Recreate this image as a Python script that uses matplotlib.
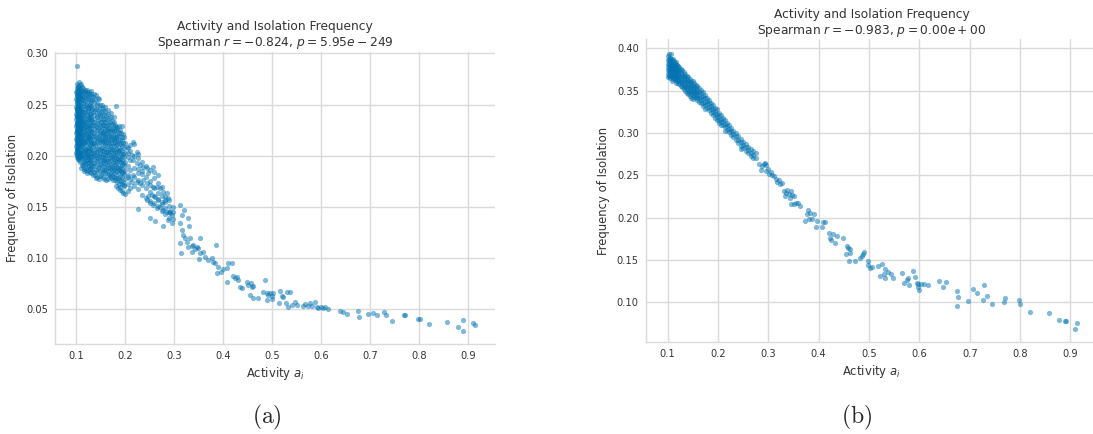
import matplotlib
matplotlib.use("Agg")
import matplotlib.pyplot as plt
import seaborn as sns

# ---------------- panel (a) ----------------
# dense cluster, one activity column with the isolation values read at that column
a_cols = [0.100, 0.101, 0.102, 0.103, 0.104, 0.105, 0.106, 0.107, 0.108, 0.109,
          0.110, 0.112, 0.113, 0.115, 0.117, 0.119, 0.121, 0.123, 0.125, 0.127,
          0.129, 0.131, 0.134, 0.137, 0.140, 0.143, 0.146, 0.149, 0.152, 0.155,
          0.158, 0.161, 0.164, 0.167, 0.170, 0.173, 0.176, 0.179, 0.182, 0.185,
          0.188, 0.191, 0.194, 0.197, 0.200]
a_rows = [
    [0.262, 0.255, 0.248, 0.241, 0.236, 0.229, 0.222, 0.216, 0.209, 0.203],
    [0.266, 0.258, 0.251, 0.244, 0.233, 0.226, 0.219, 0.212, 0.206, 0.199],
    [0.288, 0.270, 0.260, 0.246, 0.238, 0.231, 0.224, 0.214, 0.207, 0.201],
    [0.264, 0.253, 0.243, 0.234, 0.227, 0.218, 0.211, 0.204, 0.197],
    [0.268, 0.257, 0.249, 0.239, 0.230, 0.221, 0.213, 0.208, 0.200],
    [0.261, 0.252, 0.245, 0.237, 0.228, 0.220, 0.215, 0.202],
    [0.272, 0.259, 0.242, 0.232, 0.223, 0.210, 0.196],
    [0.265, 0.250, 0.235, 0.225, 0.217, 0.205],
    [0.262, 0.247, 0.240, 0.226, 0.212, 0.199],
    [0.270, 0.256, 0.238, 0.229, 0.218, 0.207],
    [0.263, 0.249, 0.233, 0.222, 0.214, 0.203, 0.188],
    [0.258, 0.244, 0.236, 0.227, 0.219, 0.209, 0.200],
    [0.266, 0.251, 0.240, 0.230, 0.216, 0.205, 0.193],
    [0.261, 0.246, 0.234, 0.224, 0.211, 0.198, 0.185],
    [0.264, 0.253, 0.239, 0.228, 0.217, 0.206, 0.194],
    [0.257, 0.248, 0.233, 0.221, 0.210, 0.201, 0.188],
    [0.262, 0.243, 0.236, 0.225, 0.214, 0.204, 0.196, 0.183],
    [0.255, 0.247, 0.230, 0.219, 0.208, 0.199, 0.190],
    [0.260, 0.250, 0.238, 0.227, 0.216, 0.205, 0.194],
    [0.254, 0.241, 0.232, 0.221, 0.211, 0.200, 0.187],
    [0.258, 0.245, 0.235, 0.224, 0.213, 0.203, 0.191],
    [0.263, 0.249, 0.237, 0.226, 0.215, 0.206, 0.196, 0.183],
    [0.257, 0.243, 0.230, 0.219, 0.209, 0.200, 0.190, 0.181],
    [0.252, 0.240, 0.233, 0.222, 0.212, 0.203, 0.193],
    [0.259, 0.246, 0.228, 0.217, 0.207, 0.198, 0.186, 0.178],
    [0.250, 0.238, 0.225, 0.214, 0.204, 0.195, 0.184],
    [0.255, 0.242, 0.231, 0.219, 0.209, 0.200, 0.189, 0.177],
    [0.247, 0.236, 0.224, 0.213, 0.203, 0.192, 0.180],
    [0.250, 0.239, 0.228, 0.220, 0.212, 0.205, 0.196, 0.186],
    [0.244, 0.233, 0.223, 0.216, 0.208, 0.199, 0.190, 0.179],
    [0.248, 0.236, 0.226, 0.218, 0.210, 0.201, 0.193, 0.183],
    [0.240, 0.229, 0.221, 0.213, 0.204, 0.195, 0.186, 0.176],
    [0.245, 0.232, 0.224, 0.215, 0.206, 0.197, 0.188],
    [0.237, 0.227, 0.219, 0.210, 0.202, 0.192, 0.182],
    [0.242, 0.230, 0.220, 0.212, 0.205, 0.196, 0.187, 0.178],
    [0.234, 0.225, 0.216, 0.207, 0.199, 0.189, 0.180],
    [0.238, 0.226, 0.217, 0.209, 0.200, 0.191, 0.183],
    [0.230, 0.221, 0.213, 0.204, 0.195, 0.186, 0.176],
    [0.249, 0.228, 0.218, 0.210, 0.201, 0.192, 0.181],
    [0.224, 0.214, 0.206, 0.197, 0.188, 0.178, 0.168],
    [0.229, 0.219, 0.208, 0.199, 0.190, 0.183, 0.172],
    [0.222, 0.211, 0.202, 0.194, 0.185, 0.175],
    [0.229, 0.215, 0.205, 0.196, 0.187, 0.179, 0.166],
    [0.218, 0.208, 0.199, 0.191, 0.182, 0.170],
    [0.212, 0.203, 0.194, 0.186, 0.177, 0.163],
]

# second pass over the cluster, points lying between the columns above
a_cols2 = [0.1005, 0.1015, 0.1025, 0.1035, 0.1045, 0.1055, 0.1075, 0.1095, 0.111, 0.114,
           0.116, 0.118, 0.120, 0.122, 0.124, 0.126, 0.128, 0.130, 0.1325, 0.1355,
           0.1385, 0.1415, 0.1445, 0.1475, 0.1505, 0.1535, 0.1565, 0.1595, 0.1625, 0.1655,
           0.1685, 0.1715, 0.1745, 0.1775, 0.1805, 0.1835, 0.1865, 0.1895, 0.1925, 0.1955,
           0.205, 0.210, 0.218, 0.226, 0.234, 0.242, 0.250, 0.258, 0.266, 0.274,
           0.282, 0.290, 0.298]
a_rows2 = [
    [0.259, 0.251, 0.245, 0.239, 0.232, 0.225, 0.218, 0.211, 0.205],
    [0.263, 0.254, 0.247, 0.240, 0.230, 0.223, 0.215, 0.208, 0.202],
    [0.256, 0.250, 0.242, 0.235, 0.228, 0.220, 0.217, 0.210, 0.198],
    [0.267, 0.258, 0.249, 0.238, 0.231, 0.224, 0.214, 0.207, 0.201],
    [0.262, 0.253, 0.244, 0.236, 0.226, 0.219, 0.211, 0.204],
    [0.265, 0.256, 0.247, 0.240, 0.233, 0.225, 0.216, 0.209, 0.199],
    [0.269, 0.258, 0.244, 0.237, 0.229, 0.221, 0.213, 0.203, 0.194],
    [0.260, 0.252, 0.245, 0.234, 0.226, 0.215, 0.209, 0.200],
    [0.267, 0.255, 0.241, 0.231, 0.220, 0.211, 0.198, 0.191],
    [0.263, 0.254, 0.243, 0.232, 0.221, 0.213, 0.202, 0.190],
    [0.257, 0.249, 0.237, 0.226, 0.214, 0.207, 0.196, 0.187],
    [0.262, 0.243, 0.232, 0.223, 0.213, 0.204, 0.192],
    [0.259, 0.250, 0.229, 0.219, 0.207, 0.199, 0.186],
    [0.264, 0.252, 0.240, 0.228, 0.216, 0.202, 0.193],
    [0.257, 0.244, 0.234, 0.222, 0.212, 0.201, 0.185],
    [0.262, 0.247, 0.236, 0.224, 0.218, 0.208, 0.197, 0.190],
    [0.250, 0.239, 0.229, 0.217, 0.207, 0.195, 0.184],
    [0.260, 0.252, 0.241, 0.230, 0.219, 0.210, 0.199, 0.188],
    [0.254, 0.246, 0.234, 0.223, 0.212, 0.203, 0.193, 0.186],
    [0.260, 0.248, 0.236, 0.226, 0.215, 0.206, 0.197, 0.184],
    [0.255, 0.244, 0.230, 0.219, 0.210, 0.201, 0.190, 0.181],
    [0.251, 0.240, 0.232, 0.222, 0.212, 0.202, 0.193, 0.179],
    [0.256, 0.245, 0.235, 0.227, 0.217, 0.207, 0.198, 0.188],
    [0.250, 0.240, 0.229, 0.221, 0.215, 0.206, 0.196, 0.185],
    [0.243, 0.233, 0.225, 0.216, 0.208, 0.200, 0.191, 0.181],
    [0.247, 0.236, 0.230, 0.222, 0.214, 0.202, 0.194, 0.184],
    [0.240, 0.230, 0.220, 0.212, 0.205, 0.196, 0.186, 0.177],
    [0.244, 0.233, 0.224, 0.216, 0.207, 0.198, 0.189],
    [0.236, 0.226, 0.218, 0.209, 0.201, 0.191, 0.181],
    [0.241, 0.230, 0.222, 0.213, 0.204, 0.195, 0.185, 0.177],
    [0.233, 0.224, 0.215, 0.207, 0.198, 0.188, 0.180],
    [0.238, 0.226, 0.218, 0.209, 0.201, 0.192, 0.183],
    [0.230, 0.221, 0.212, 0.203, 0.194, 0.185, 0.176],
    [0.233, 0.224, 0.215, 0.206, 0.197, 0.188, 0.179],
    [0.225, 0.216, 0.207, 0.198, 0.189, 0.178, 0.170],
    [0.228, 0.219, 0.211, 0.203, 0.194, 0.185, 0.174],
    [0.222, 0.212, 0.204, 0.195, 0.186, 0.176],
    [0.225, 0.215, 0.206, 0.197, 0.188, 0.179, 0.169],
    [0.218, 0.209, 0.200, 0.191, 0.183, 0.172],
    [0.221, 0.212, 0.202, 0.193, 0.184, 0.174],
    [0.208, 0.199, 0.190, 0.181, 0.172],
    [0.205, 0.196, 0.186, 0.177, 0.168],
    [0.211, 0.200, 0.188, 0.179, 0.170],
    [0.198, 0.187, 0.176, 0.167],
    [0.194, 0.182, 0.171, 0.162],
    [0.190, 0.179, 0.168, 0.159],
    [0.186, 0.175, 0.165, 0.156],
    [0.178, 0.168, 0.161, 0.154],
    [0.173, 0.164, 0.157, 0.151],
    [0.169, 0.161, 0.153, 0.146],
    [0.160, 0.155, 0.149, 0.143],
    [0.157, 0.151, 0.145, 0.139],
    [0.150, 0.145, 0.138],
]

# points between 0.2 and 0.3
act_a_mid = [0.2095, 0.215, 0.2027, 0.206, 0.213, 0.223, 0.2265, 0.2163, 0.223, 0.230,
             0.2367, 0.244, 0.2571, 0.2585, 0.2673, 0.247, 0.2333, 0.2265, 0.2163, 0.2061,
             0.2129, 0.223, 0.2299, 0.2367, 0.2435, 0.250, 0.2571, 0.264, 0.2707, 0.2776,
             0.2843, 0.2878, 0.281, 0.2742, 0.2673, 0.2605, 0.2537, 0.2469, 0.2435, 0.250,
             0.2571, 0.2639, 0.2707, 0.2775, 0.2843, 0.291, 0.2946, 0.2878, 0.2946, 0.2762,
             0.2503, 0.2605, 0.2265, 0.2061, 0.196, 0.189, 0.197]
iso_a_mid = [0.2105, 0.2137, 0.2089, 0.2023, 0.2007, 0.204, 0.2017, 0.1958, 0.1926, 0.191,
             0.189, 0.1877, 0.189, 0.1844, 0.1812, 0.1828, 0.1854, 0.1828, 0.1812, 0.1796,
             0.1747, 0.1747, 0.173, 0.1763, 0.173, 0.1714, 0.1698, 0.1698, 0.1682, 0.1649,
             0.1633, 0.1584, 0.1568, 0.1551, 0.1574, 0.160, 0.1617, 0.1607, 0.1568, 0.1535,
             0.1519, 0.1486, 0.1502, 0.147, 0.1454, 0.1464, 0.1421, 0.1372, 0.134, 0.1314,
             0.1389, 0.1366, 0.1477, 0.1659, 0.1633, 0.1665, 0.1714]

# sparse tail, x > 0.3
act_a_tail = [0.3116, 0.3197, 0.315, 0.291, 0.3286, 0.3116, 0.330, 0.315, 0.3184, 0.3218,
              0.325, 0.332, 0.3524, 0.3116, 0.313, 0.3286, 0.3354, 0.339, 0.3456, 0.349,
              0.3354, 0.342, 0.3524, 0.359, 0.351, 0.3626, 0.369, 0.3762, 0.3796, 0.383,
              0.385, 0.3898, 0.3864, 0.3946, 0.3987, 0.407, 0.4102, 0.417, 0.407, 0.4204,
              0.4238, 0.427, 0.4306, 0.434, 0.4374, 0.4476, 0.451, 0.4558, 0.4578, 0.4612,
              0.4544, 0.4612, 0.4714, 0.485, 0.4816, 0.4884, 0.4918, 0.4952, 0.4986, 0.502,
              0.4884, 0.4986, 0.5156, 0.519, 0.5224, 0.5306, 0.536, 0.5142, 0.528, 0.5326,
              0.5394, 0.546, 0.5496, 0.5618, 0.5666, 0.5734, 0.5768, 0.580, 0.587, 0.5905,
              0.594, 0.5986, 0.604, 0.6075, 0.6143, 0.638, 0.645, 0.652, 0.6744, 0.6765,
              0.6962, 0.7064, 0.7146, 0.7282, 0.7323, 0.7439, 0.7690, 0.7711, 0.7983, 0.8004,
              0.8194, 0.8562, 0.8786, 0.8888, 0.8888, 0.9092, 0.914]
iso_a_tail = [0.1519, 0.147, 0.142, 0.1438, 0.1389, 0.134, 0.1314, 0.1275, 0.1226, 0.1193,
              0.116, 0.120, 0.1193, 0.1145, 0.1053, 0.1112, 0.1118, 0.1128, 0.1112, 0.1096,
              0.1063, 0.1086, 0.1047, 0.1063, 0.0988, 0.1014, 0.0982, 0.0998, 0.0966, 0.0949,
              0.1128, 0.0917, 0.0852, 0.0868, 0.089, 0.090, 0.0949, 0.0949, 0.077, 0.0826,
              0.0803, 0.0819, 0.0786, 0.0715, 0.0705, 0.077, 0.0738, 0.076, 0.0715, 0.0728,
              0.064, 0.0607, 0.0607, 0.0786, 0.0672, 0.0656, 0.064, 0.0663, 0.063, 0.0656,
              0.0591, 0.0598, 0.0676, 0.0627, 0.0617, 0.0672, 0.0672, 0.0565, 0.0559, 0.052,
              0.0542, 0.0575, 0.0542, 0.0532, 0.0552, 0.0532, 0.0559, 0.0532, 0.0575, 0.0526,
              0.051, 0.0526, 0.051, 0.052, 0.0503, 0.0483, 0.0473, 0.0450, 0.0486, 0.0427,
              0.0453, 0.046, 0.0443, 0.0473, 0.0443, 0.0388, 0.0443, 0.0443, 0.0401, 0.0401,
              0.0355, 0.0378, 0.0323, 0.0394, 0.0287, 0.0368, 0.0345]

# ---------------- panel (b) ----------------
b_cols = [0.100, 0.102, 0.104, 0.106, 0.108, 0.110, 0.112, 0.114, 0.116, 0.118,
          0.120, 0.123, 0.126, 0.129, 0.132, 0.135, 0.138, 0.141, 0.144, 0.147,
          0.150, 0.153, 0.156, 0.159, 0.162, 0.166, 0.170, 0.174, 0.178, 0.182,
          0.186, 0.190, 0.194, 0.198, 0.202, 0.206, 0.210, 0.214, 0.218, 0.222,
          0.226, 0.230, 0.235, 0.240, 0.245, 0.250, 0.255, 0.260, 0.265, 0.270,
          0.275]
b_rows = [
    [0.391, 0.386, 0.382, 0.378, 0.374, 0.370, 0.366],
    [0.393, 0.388, 0.384, 0.380, 0.376, 0.372, 0.368],
    [0.389, 0.385, 0.381, 0.377, 0.373, 0.369, 0.365],
    [0.394, 0.387, 0.383, 0.379, 0.375, 0.371, 0.367],
    [0.386, 0.382, 0.378, 0.374, 0.370, 0.366, 0.362],
    [0.388, 0.384, 0.380, 0.376, 0.372, 0.368, 0.364],
    [0.385, 0.381, 0.377, 0.373, 0.369, 0.365],
    [0.383, 0.379, 0.375, 0.371, 0.367, 0.363],
    [0.384, 0.380, 0.376, 0.372, 0.368, 0.364, 0.359],
    [0.381, 0.377, 0.373, 0.369, 0.365, 0.361],
    [0.379, 0.375, 0.371, 0.367, 0.363, 0.359],
    [0.378, 0.374, 0.370, 0.366, 0.362, 0.358],
    [0.376, 0.372, 0.368, 0.364, 0.360, 0.356],
    [0.374, 0.370, 0.366, 0.362, 0.358, 0.354],
    [0.372, 0.368, 0.364, 0.360, 0.356, 0.352],
    [0.370, 0.366, 0.362, 0.358, 0.354, 0.350],
    [0.368, 0.364, 0.360, 0.356, 0.352, 0.347],
    [0.366, 0.362, 0.358, 0.354, 0.350, 0.346],
    [0.364, 0.360, 0.356, 0.352, 0.348, 0.344],
    [0.362, 0.358, 0.354, 0.350, 0.346, 0.342],
    [0.361, 0.357, 0.353, 0.349, 0.345, 0.340],
    [0.359, 0.355, 0.351, 0.347, 0.343],
    [0.357, 0.353, 0.349, 0.345, 0.341],
    [0.356, 0.351, 0.347, 0.343, 0.339],
    [0.353, 0.349, 0.345, 0.341, 0.337],
    [0.351, 0.347, 0.343, 0.339, 0.335],
    [0.348, 0.344, 0.340, 0.336, 0.332],
    [0.345, 0.341, 0.337, 0.333, 0.329],
    [0.342, 0.338, 0.334, 0.330],
    [0.339, 0.335, 0.331, 0.327],
    [0.336, 0.332, 0.328, 0.324],
    [0.333, 0.329, 0.325, 0.321],
    [0.330, 0.326, 0.322, 0.318],
    [0.328, 0.323, 0.319, 0.315],
    [0.324, 0.320, 0.316, 0.312],
    [0.321, 0.317, 0.313, 0.309],
    [0.318, 0.314, 0.310],
    [0.315, 0.311, 0.307, 0.303],
    [0.312, 0.308, 0.304],
    [0.309, 0.305, 0.301],
    [0.306, 0.302, 0.298],
    [0.303, 0.299, 0.295],
    [0.300, 0.296, 0.292],
    [0.296, 0.292, 0.288],
    [0.293, 0.289, 0.285, 0.281],
    [0.290, 0.286, 0.282],
    [0.287, 0.283, 0.279],
    [0.284, 0.280, 0.276],
    [0.281, 0.277, 0.273],
    [0.279, 0.274, 0.270],
    [0.276, 0.271],
]

act_b_tail = [0.2816, 0.287, 0.2915, 0.2934, 0.296, 0.285, 0.2947, 0.300, 0.3013, 0.3046,
              0.308, 0.3112, 0.3145, 0.3178, 0.321, 0.3224, 0.3263, 0.331, 0.3342, 0.3375,
              0.3408, 0.3441, 0.3474, 0.3507, 0.3329, 0.3421, 0.3441, 0.3507, 0.354, 0.3592,
              0.3638, 0.3789, 0.377, 0.3836, 0.3901, 0.3868, 0.3803, 0.3724, 0.3967, 0.3947,
              0.4066, 0.4079, 0.4118, 0.4197, 0.4276, 0.425, 0.423, 0.4362, 0.4316, 0.4493,
              0.4559, 0.4592, 0.4625, 0.4539, 0.4625, 0.4605, 0.4724, 0.4822, 0.4868, 0.4908,
              0.4888, 0.4987, 0.4974, 0.502, 0.5053, 0.5178, 0.5257, 0.521, 0.5296, 0.5322,
              0.5375, 0.5428, 0.5474, 0.5322, 0.5651, 0.5691, 0.5757, 0.5770, 0.5803, 0.5868,
              0.5914, 0.5954, 0.5980, 0.600, 0.5967, 0.6033, 0.6086, 0.6164, 0.6395, 0.6461,
              0.6526, 0.6743, 0.6770, 0.6757, 0.6967, 0.7072, 0.7138, 0.7283, 0.7270, 0.7336,
              0.7441, 0.7678, 0.7711, 0.7974, 0.8007, 0.8191, 0.8566, 0.8783, 0.8895, 0.8914,
              0.9125, 0.9092]
iso_b_tail = [0.2638, 0.261, 0.263, 0.265, 0.262, 0.256, 0.2551, 0.2571, 0.252, 0.2543,
              0.2504, 0.2492, 0.2453, 0.2425, 0.2441, 0.2402, 0.2413, 0.2315, 0.2295, 0.2323,
              0.2283, 0.2315, 0.2268, 0.2256, 0.2256, 0.2236, 0.2157, 0.2157, 0.2177, 0.2177,
              0.2138, 0.2087, 0.2039, 0.2059, 0.2047, 0.198, 0.198, 0.1961, 0.1961, 0.189,
              0.189, 0.1953, 0.1953, 0.1823, 0.1811, 0.1732, 0.1756, 0.1783, 0.1705, 0.1764,
              0.1665, 0.1646, 0.1626, 0.1575, 0.1587, 0.1488, 0.1488, 0.1528, 0.1547, 0.1598,
              0.1567, 0.1488, 0.1441, 0.1409, 0.1417, 0.1433, 0.1453, 0.1315, 0.1335, 0.1394,
              0.1354, 0.1335, 0.1287, 0.1283, 0.1346, 0.1232, 0.1264, 0.1287, 0.1209, 0.1366,
              0.1295, 0.1224, 0.1177, 0.1146, 0.1217, 0.1217, 0.1217, 0.1209, 0.1248, 0.1177,
              0.1236, 0.1138, 0.1059, 0.0953, 0.1012, 0.1154, 0.1114, 0.1201, 0.1028, 0.1075,
              0.098, 0.1004, 0.1051, 0.1028, 0.098, 0.0890, 0.0870, 0.0791, 0.0783, 0.0783,
              0.076, 0.0685]

titles = ["Activity and Isolation Frequency\nSpearman $r = -0.824$, $p = 5.95e-249$",
          "Activity and Isolation Frequency\nSpearman $r = -0.983$, $p = 0.00e+00$"]
xticks = [0.1, 0.2, 0.3, 0.4, 0.5, 0.6, 0.7, 0.8, 0.9]
yticks_a = [0.05, 0.10, 0.15, 0.20, 0.25, 0.30]
yticks_b = [0.10, 0.15, 0.20, 0.25, 0.30, 0.35, 0.40]


def expand(cols, rows):
    xs = [c for c, r in zip(cols, rows) for _ in r]
    ys = [v for r in rows for v in r]
    return xs, ys


sns.set_style("whitegrid")
plt.rcParams['font.family'] = ['DejaVu Sans']

fig = plt.figure(figsize=(10.93, 4.34), dpi=100)
ax_a = fig.add_axes([0.0503, 0.2067, 0.4026, 0.6742])
ax_b = fig.add_axes([0.5908, 0.2127, 0.4136, 0.6968])

xa, ya = expand(a_cols, a_rows)
xa2, ya2 = expand(a_cols2, a_rows2)
xa += xa2 + act_a_mid + act_a_tail
ya += ya2 + iso_a_mid + iso_a_tail
xb, yb = expand(b_cols, b_rows)
xb += act_b_tail
yb += iso_b_tail

blue = '#0173B2'
grid_c = '#dadada'
text_c = '#333333'

setup = [(ax_a, xa, ya, titles[0], yticks_a, (0.0158, 0.3016)),
         (ax_b, xb, yb, titles[1], yticks_b, (0.0534, 0.4109))]

for ax, xs, ys, title, yt, ylim in setup:
    ax.scatter(xs, ys, s=14, color=blue, alpha=0.5, linewidths=0, zorder=3)
    ax.set_xlim(0.0565, 0.9545)
    ax.set_ylim(*ylim)
    ax.set_xticks(xticks)
    ax.set_xticklabels([f'{t:.1f}' for t in xticks])
    ax.set_yticks(yt)
    ax.set_yticklabels([f'{t:.2f}' for t in yt])
    ax.tick_params(labelsize=7.1, colors=text_c, pad=5, length=0)
    ax.grid(True, color=grid_c, linewidth=1.0)
    ax.set_axisbelow(True)
    for side in ['top', 'right']:
        ax.spines[side].set_visible(False)
    for side in ['left', 'bottom']:
        ax.spines[side].set_color(grid_c)
        ax.spines[side].set_linewidth(1.0)
    ax.set_xlabel('Activity $a_i$', fontsize=8.4, color=text_c, labelpad=3)
    ax.set_ylabel('Frequency of Isolation', fontsize=8.4, color=text_c, labelpad=5)
    ax.set_title(title, fontsize=8.8, color=text_c, pad=4, linespacing=1.2)

fig.text(0.2443, 0.037, r'$\mathrm{(a)}$', fontsize=17, ha='center', va='center',
         math_fontfamily='cm')
fig.text(0.784, 0.037, r'$\mathrm{(b)}$', fontsize=17, ha='center', va='center',
         math_fontfamily='cm')

fig.savefig('out.png', dpi=100)
